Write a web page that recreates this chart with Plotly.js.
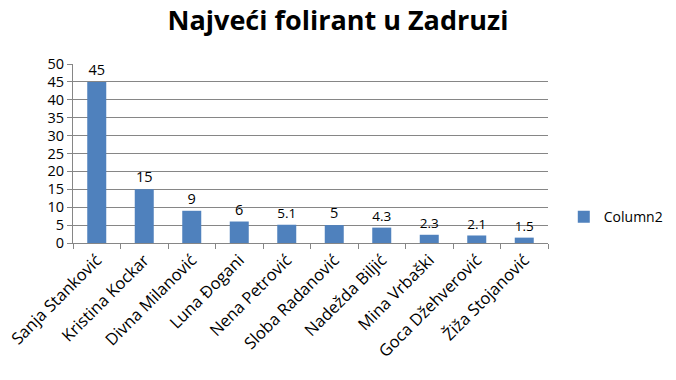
<!DOCTYPE html>
<html><head><meta charset="utf-8">
<script src="https://cdn.plot.ly/plotly-3.0.1.min.js"></script>
<style>html,body{margin:0;padding:0;background:#fff}</style>
</head><body>
<div id="chart" style="width:676px;height:380px"></div>
<script>
const categories = ["Sanja Stanković","Kristina Kockar","Divna Milanović","Luna Đogani","Nena Petrović","Sloba Radanović","Nadežda Biljić","Mina Vrbaški","Goca Džehverović","Žiža Stojanović"];
const values = [45, 15, 9, 6, 5.1, 5, 4.3, 2.3, 2.1, 1.5];
const seriesName = "Column2";
const yTicks = [0,5,10,15,20,25,30,35,40,45,50];

const font = "'Open Sans', 'DejaVu Sans', sans-serif";
Plotly.newPlot('chart', [{
  type: 'bar',
  x: categories,
  y: values,
  name: seriesName,
  text: values.map(String),
  textposition: 'outside',
  cliponaxis: false,
  textfont: {family: font, size: 14.5, color: '#000'},
  marker: {color: '#4F81BD'},
  showlegend: true
}], {
  width: 676, height: 380,
  margin: {l: 73, r: 128, t: 64, b: 137, autoexpand: false},
  paper_bgcolor: '#fff', plot_bgcolor: '#fff',
  bargap: 0.6,
  title: {text: '<b>Najveći folirant u Zadruzi</b>', x: 0.5, xanchor: 'center', y: 0.945, yanchor: 'middle',
          font: {family: font, size: 27, color: '#000'}},
  xaxis: {
    type: 'category', tickangle: -45, tickson: 'boundaries', ticks: 'outside', ticklen: 5,
    tickcolor: '#868686', showline: true, linecolor: '#868686', linewidth: 1,
    tickfont: {family: font, size: 16.5, color: '#000'}, showgrid: false
  },
  yaxis: {
    range: [0, 50], tickvals: yTicks, ticks: 'outside', ticklen: 5, tickcolor: '#868686',
    showline: true, linecolor: '#868686', showgrid: true, gridcolor: '#868686',
    tickfont: {family: font, size: 14.5, color: '#000'}, zeroline: false
  },
  legend: {xref: 'container', x: 0.834, y: 0.145, xanchor: 'left', yanchor: 'middle', font: {family: font, size: 14, color: '#000'}}
}, {displayModeBar: false, staticPlot: true});
</script>
</body></html>
